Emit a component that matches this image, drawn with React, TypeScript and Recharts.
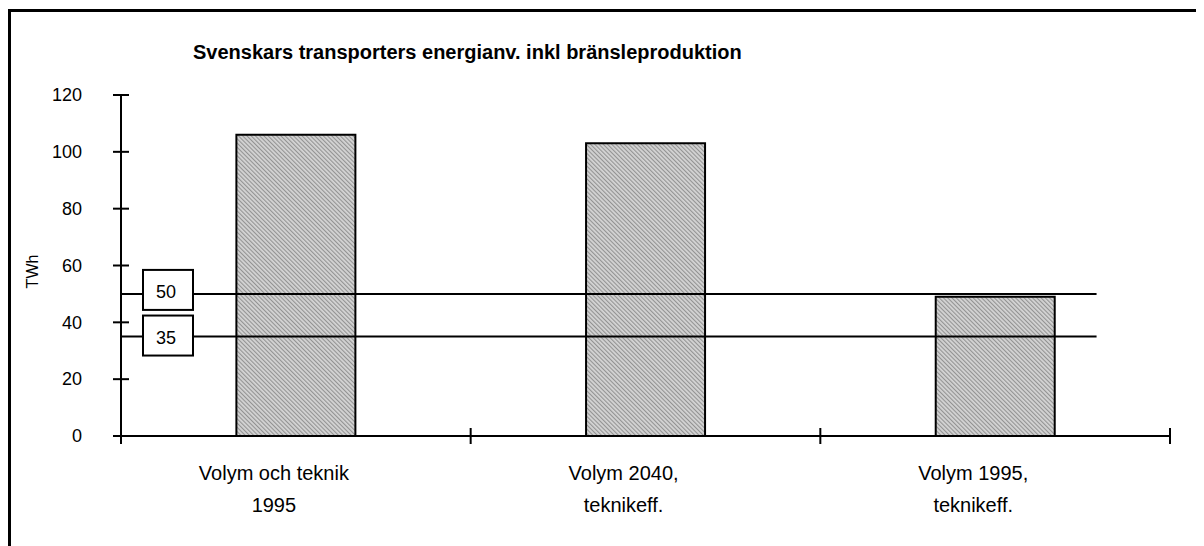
import React from 'react';
import { ComposedChart, Bar, XAxis, YAxis, ReferenceLine, LabelList } from 'recharts';

const title = 'Svenskars transporters energianv. inkl bränsleproduktion';
const categories = ['Volym och teknik\n1995', 'Volym 2040,\nteknikeff.', 'Volym 1995,\nteknikeff.'];
const categoryPos = [0.5, 1.5, 2.5];
const energyTWh = [106, 103, 49];
const yTicks = [0, 20, 40, 60, 80, 100, 120];
const boundaryTicks = [0, 1, 2, 3];
const targetLevels = [50, 35];
const targetLineEnd = 2.79;

const data = categories.map((name, i) => ({ pos: categoryPos[i], name, value: energyTWh[i] }));

const font = '"Liberation Sans", Arial, sans-serif';

// ticks that cross the axis line, like the old Excel charts
const CrossTickY = ({ x, y, payload }: any) => (
    <g>
        <line x1={x + 31} x2={x + 47} y1={y} y2={y} stroke="#000" strokeWidth={2} />
        <text x={x} y={y} dy="0.35em" textAnchor="end" fill="#000" fontSize={18} fontFamily={font}>{payload.value}</text>
    </g>
);

const CrossTickX = ({ x, y }: any) => (
    <line x1={x} x2={x} y1={y - 16} y2={y} stroke="#000" strokeWidth={2} />
);

const CategoryLabel = ({ x, y, width, height, value }: any) => {
    const lines = String(value).split('\n');
    const cx = x + width / 2 - 22;
    return (
        <text x={cx} y={y + height + 44} textAnchor="middle" fill="#000" fontSize={20} fontFamily={font}>
            {lines.map((line, i) => (
                <tspan key={i} x={cx} dy={i === 0 ? 0 : 32}>{line}</tspan>
            ))}
        </text>
    );
};

const LevelBox = ({ viewBox, value, lift }: any) => {
    if (!viewBox) return null;
    const bx = viewBox.x + 22;
    const by = viewBox.y - lift;
    return (
        <g>
            <rect x={bx} y={by} width={50} height={40} fill="#fff" stroke="#000" strokeWidth={2} />
            <text x={bx + 23} y={by + 28} textAnchor="middle" fontSize={18} fontFamily={font} fill="#000">{value}</text>
        </g>
    );
};

const AxisTitle = ({ viewBox }: any) => {
    if (!viewBox) return null;
    const cx = viewBox.x + 30;
    const cy = viewBox.y + viewBox.height / 2 + 6;
    return (
        <text x={cx} y={cy} transform={`rotate(-90 ${cx} ${cy})`} textAnchor="middle" fontSize={16} fontFamily={font} fill="#000">TWh</text>
    );
};

const axisStroke = { stroke: '#000', strokeWidth: 2 };

export default function App() {
    return (
        <div style={{ position: 'relative', width: 1196, height: 538, overflow: 'hidden', background: '#fff' }}>
            <div style={{ position: 'absolute', left: 0, top: 1, width: 2000, height: 2000, borderTop: '3px solid #000', borderLeft: '3px solid #000', pointerEvents: 'none' }} />
            <ComposedChart width={1196} height={538} data={data} margin={{ top: 87, right: 34, bottom: 109, left: 0 }} barCategoryGap="33%">
                <defs>
                    <pattern id="hatch" width="3" height="3" patternUnits="userSpaceOnUse" patternTransform="rotate(-45)">
                        <rect width="3" height="3" fill="#d4d4d4" />
                        <rect width="1.1" height="3" fill="#939393" />
                    </pattern>
                </defs>
                <text x={185} y={51} fontSize={20} fontWeight="bold" fontFamily={font} fill="#000">{title}</text>
                <XAxis xAxisId="x" type="number" dataKey="pos" domain={[0, 3]} allowDataOverflow ticks={boundaryTicks} interval={0}
                    height={1} tickSize={8} tickMargin={0} axisLine={axisStroke} tickLine={false} tick={<CrossTickX />} />
                <YAxis yAxisId="y" domain={[0, 120]} ticks={yTicks} interval={0} width={113} tickSize={8} tickMargin={31}
                    axisLine={axisStroke} tickLine={false} tick={<CrossTickY />} label={<AxisTitle />} />
                <Bar xAxisId="x" yAxisId="y" dataKey="value" fill="url(#hatch)" stroke="#000" strokeWidth={2} isAnimationActive={false}>
                    <LabelList dataKey="name" content={<CategoryLabel />} />
                </Bar>
                {targetLevels.map((level, i) => (
                    <ReferenceLine key={level} xAxisId="x" yAxisId="y" ifOverflow="visible"
                        segment={[{ x: 0, y: level }, { x: targetLineEnd, y: level }]}
                        stroke="#000" strokeWidth={2}
                        label={<LevelBox value={level} lift={i === 0 ? 24 : 21} />} />
                ))}
            </ComposedChart>
        </div>
    );
}
